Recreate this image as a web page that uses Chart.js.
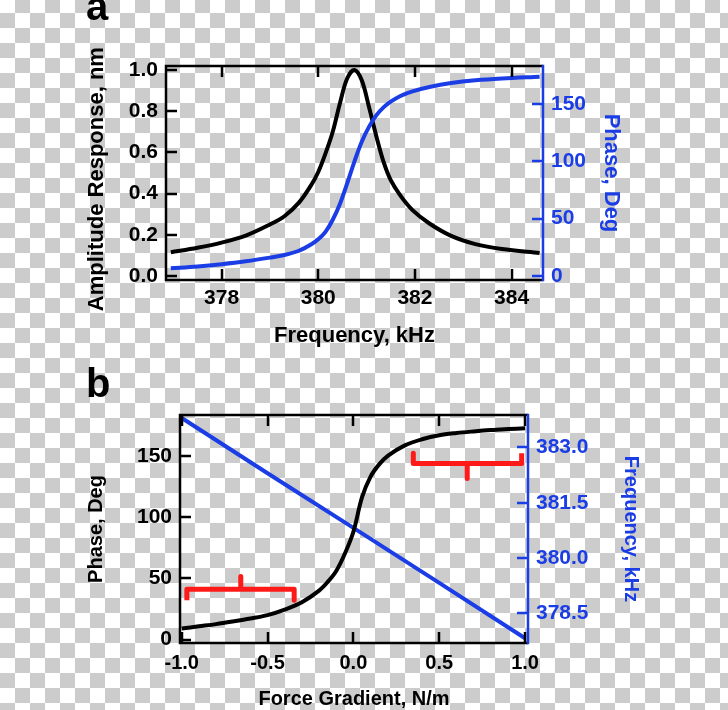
<!DOCTYPE html>
<html>
<head>
<meta charset="utf-8">
<script src="https://cdn.jsdelivr.net/npm/chart.js@4"></script>
<style>
  html, body { margin: 0; padding: 0; }
  body {
    width: 728px; height: 710px; overflow: hidden;
    background: repeating-conic-gradient(#cccccc 0 25%, #ffffff 0 50%) 0 -2px / 30px 30px;
  }
  #wrap { position: relative; width: 728px; height: 710px; }
  canvas { position: absolute; left: 0; }
  .tag {
    position: absolute; font: bold 40px/40px "Liberation Sans", Arial, sans-serif; color: #000;
  }
</style>
</head>
<body>
<div id="wrap">
  <canvas id="chartA" width="728" height="355" style="top:0"></canvas>
  <canvas id="chartB" width="728" height="355" style="top:355px"></canvas>
  <div class="tag" style="left:86px;top:-14px">a</div>
  <div class="tag" style="left:86px;top:363px">b</div>
</div>
<script>
// ---- panel a: frequency sweep ----
const freqA = [376.95, 377.5, 378.0, 378.5, 379.0, 379.3, 379.6, 379.85, 380.0, 380.15, 380.3, 380.45, 380.6,
  380.75, 380.9, 381.05, 381.2, 381.35, 381.5, 381.7, 381.95, 382.3, 382.75, 383.25, 383.8, 384.58];
const amplitudeA = [0.115, 0.137, 0.162, 0.196, 0.25, 0.29, 0.356, 0.44, 0.505, 0.595, 0.70, 0.84, 0.96,
  1.0, 0.95, 0.82, 0.68, 0.555, 0.465, 0.39, 0.32, 0.255, 0.195, 0.155, 0.131, 0.112];
const phaseA = [6.7, 8.3, 10.3, 12.8, 16, 18.3, 22, 27.5, 32, 38.5, 49, 63, 81,
  100, 117, 130, 140, 147, 152, 157, 161, 164.8, 168.2, 170.6, 172.2, 173.7];
const freqTicksA = [378, 380, 382, 384];
const ampTicksA = [0, 0.2, 0.4, 0.6, 0.8, 1.0];
const phaseTicksA = [0, 50, 100, 150];

// ---- panel b: force gradient sweep ----
const forceB = [-1.0, -0.9, -0.8, -0.7, -0.6, -0.5, -0.4, -0.3, -0.2, -0.15, -0.1, -0.05, 0,
  0.05, 0.1, 0.15, 0.2, 0.3, 0.4, 0.5, 0.6, 0.7, 0.8, 0.9, 1.0];
const phaseB = [9, 10.8, 12.6, 14.8, 17.2, 20, 24.5, 30.5, 40, 47, 56, 70, 88,
  116, 133, 143, 150, 158.5, 163.5, 166.8, 168.6, 169.9, 171, 171.8, 172.5];
const forceLineB = [-1.0, -0.5, 0, 0.5, 1.0];
const freqB = [383.8, 382.3, 380.82, 379.33, 377.83];
const forceTicksB = [-1.0, -0.5, 0, 0.5, 1.0];
const phaseTicksB = [0, 50, 100, 150];
const freqTicksB = [378.5, 380.0, 381.5, 383.0];

// red brackets (force, phase)
const bracketLowX = [-0.97, -0.97, -0.656, -0.656, -0.656, -0.345, -0.345];
const bracketLowY = [32, 41, 41, 51.5, 41, 41, 32];
const bracketHighX = [0.349, 0.349, 0.663, 0.663, 0.663, 0.98, 0.98];
const bracketHighY = [152, 143.8, 143.8, 131.5, 143.8, 143.8, 152];

const BLUE = "#1a3de6";
const FONT = "'Liberation Sans', Arial, sans-serif";
Chart.defaults.font.family = FONT;

const pts = (xs, ys) => xs.map((x, i) => ({ x: x, y: ys[i] }));
const fixTicks = vals => scale => { scale.ticks = vals.map(v => ({ value: v })); };

// axis frame with inward ticks, top border mirrored ticks, blue right axis
const frame = {
  id: "frame",
  afterDraw(chart) {
    const { ctx, chartArea: a, scales } = chart;
    const tl = 11;
    ctx.save();
    ctx.lineWidth = 2.5;
    ctx.strokeStyle = "#000";
    ctx.beginPath();
    scales.x.ticks.forEach(t => {
      const px = Math.round(scales.x.getPixelForValue(t.value));
      ctx.moveTo(px, a.bottom); ctx.lineTo(px, a.bottom - tl);
      ctx.moveTo(px, a.top); ctx.lineTo(px, a.top + tl);
    });
    scales.y.ticks.forEach(t => {
      const py = Math.round(scales.y.getPixelForValue(t.value));
      ctx.moveTo(a.left, py); ctx.lineTo(a.left + tl, py);
    });
    ctx.moveTo(a.right, a.top); ctx.lineTo(a.left, a.top);
    ctx.lineTo(a.left, a.bottom); ctx.lineTo(a.right, a.bottom);
    ctx.stroke();
    ctx.strokeStyle = BLUE;
    ctx.beginPath();
    scales.y1.ticks.forEach(t => {
      const py = Math.round(scales.y1.getPixelForValue(t.value));
      ctx.moveTo(a.right, py); ctx.lineTo(a.right - tl, py);
    });
    ctx.moveTo(a.right, a.top - 1.25); ctx.lineTo(a.right, a.bottom + 1.25);
    ctx.stroke();
    ctx.restore();
  }
};

function axis(opts) {
  return Object.assign({
    type: "linear",
    grid: { display: false, drawTicks: false },
    border: { display: false },
  }, opts);
}

new Chart(document.getElementById("chartA"), {
  type: "line",
  data: {
    datasets: [
      { data: pts(freqA, phaseA), yAxisID: "y1", borderColor: BLUE, borderWidth: 4,
        pointRadius: 0, tension: 0.35 },
      { data: pts(freqA, amplitudeA), yAxisID: "y", borderColor: "#000", borderWidth: 4,
        pointRadius: 0, tension: 0.35 }
    ]
  },
  options: {
    responsive: false,
    animation: false,
    layout: { padding: { top: 66 } },
    plugins: { legend: { display: false }, tooltip: { enabled: false } },
    scales: {
      x: axis({
        position: "bottom", min: 376.85, max: 384.65,
        afterBuildTicks: fixTicks(freqTicksA),
        afterFit: s => { s.height = 75; },
        ticks: { color: "#000", padding: 6, font: { size: 21, weight: "bold" }, callback: v => String(v) },
        title: { display: true, text: "Frequency, kHz", color: "#000", padding: { top: 0, bottom: 6 },
          font: { size: 22, weight: "bold" } }
      }),
      y: axis({
        position: "left", min: -0.0194, max: 1.0194,
        afterBuildTicks: fixTicks(ampTicksA),
        afterFit: s => { s.width = 166; },
        ticks: { color: "#000", padding: 8, font: { size: 21, weight: "bold" }, callback: v => v.toFixed(1) },
        title: { display: true, text: "Amplitude Response, nm  ", color: "#000", padding: { top: 84, bottom: 0 },
          font: { size: 22, weight: "bold" } }
      }),
      y1: axis({
        position: "right", min: -3.5, max: 183.1,
        afterBuildTicks: fixTicks(phaseTicksA),
        afterFit: s => { s.width = 185; },
        ticks: { color: BLUE, padding: 8, font: { size: 21, weight: "bold" }, callback: v => String(v) },
        title: { display: true, text: "Phase, Deg", color: BLUE, padding: { top: 104, bottom: 0 },
          font: { size: 22, weight: "bold" } }
      })
    }
  },
  plugins: [frame]
});

new Chart(document.getElementById("chartB"), {
  type: "line",
  data: {
    datasets: [
      { data: pts(bracketLowX, bracketLowY), yAxisID: "y", borderColor: "#ff1a1a", borderWidth: 5,
        pointRadius: 0, tension: 0, borderJoinStyle: "round" },
      { data: pts(bracketHighX, bracketHighY), yAxisID: "y", borderColor: "#ff1a1a", borderWidth: 5,
        pointRadius: 0, tension: 0, borderJoinStyle: "round" },
      { data: pts(forceB, phaseB), yAxisID: "y", borderColor: "#000", borderWidth: 4,
        pointRadius: 0, tension: 0.35 },
      { data: pts(forceLineB, freqB), yAxisID: "y1", borderColor: BLUE, borderWidth: 4,
        pointRadius: 0, tension: 0 }
    ]
  },
  options: {
    responsive: false,
    animation: false,
    layout: { padding: { top: 60 } },
    plugins: { legend: { display: false }, tooltip: { enabled: false } },
    scales: {
      x: axis({
        position: "bottom", min: -1.01, max: 1.017,
        afterBuildTicks: fixTicks(forceTicksB),
        afterFit: s => { s.height = 67; },
        ticks: { color: "#000", padding: 8, font: { size: 20, weight: "bold" }, callback: v => v.toFixed(1) },
        title: { display: true, text: "Force Gradient, N/m", color: "#000", padding: { top: 0, bottom: 0 },
          font: { size: 20, weight: "bold", lineHeight: 1.1 } }
      }),
      y: axis({
        position: "left", min: -2.8, max: 183.3,
        afterBuildTicks: fixTicks(phaseTicksB),
        afterFit: s => { s.width = 180; },
        ticks: { color: "#000", padding: 8, font: { size: 21, weight: "bold" }, callback: v => String(v) },
        title: { display: true, text: "Phase, Deg", color: "#000", padding: { top: 84, bottom: 0 },
          font: { size: 20, weight: "bold" } }
      }),
      y1: axis({
        position: "right", min: 377.7, max: 383.88,
        afterBuildTicks: fixTicks(freqTicksB),
        afterFit: s => { s.width = 200; },
        ticks: { color: BLUE, padding: 8, font: { size: 21, weight: "bold" }, callback: v => v.toFixed(1) },
        title: { display: true, text: "Frequency, kHz", color: BLUE, padding: { top: 85, bottom: 0 },
          font: { size: 20, weight: "bold" } }
      })
    }
  },
  plugins: [frame]
});
</script>
</body>
</html>
